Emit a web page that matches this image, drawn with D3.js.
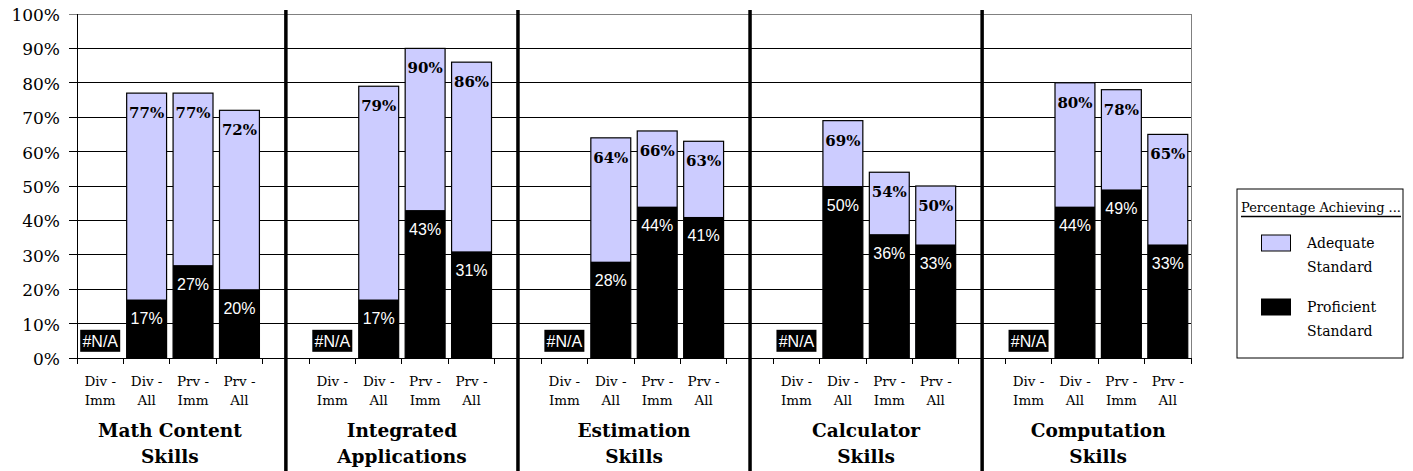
<!DOCTYPE html>
<html>
<head>
<meta charset="utf-8">
<script src="https://cdn.jsdelivr.net/npm/d3@7"></script>
<style>
  body { margin: 0; background: #fff; }
  svg { display: block; }
</style>
</head>
<body>
<svg id="chart" width="1413" height="471"></svg>
<script>
// chart data
const groups = [['Math Content', 'Skills'], ['Integrated', 'Applications'], ['Estimation', 'Skills'], ['Calculator', 'Skills'], ['Computation', 'Skills']];
const subCats = [['Div -', 'Imm'], ['Div -', 'All'], ['Prv -', 'Imm'], ['Prv -', 'All']];
// null = #N/A
const adequate = [[null, 77, 77, 72], [null, 79, 90, 86], [null, 64, 66, 63], [null, 69, 54, 50], [null, 80, 78, 65]];
const proficient = [[null, 17, 27, 20], [null, 17, 43, 31], [null, 28, 44, 41], [null, 50, 36, 33], [null, 44, 49, 33]];
const yTicks = [0, 10, 20, 30, 40, 50, 60, 70, 80, 90, 100];
const legendItems = [['Adequate', 'Standard'], ['Proficient', 'Standard']];

const serif = '"DejaVu Serif", serif';
const sans = '"Liberation Sans", Arial, sans-serif';
const lilac = '#ccccff';

const svg = d3.select('#chart');
const plot = { left: 77, right: 1191, top: 14, bottom: 358 };

// one slot per sub-category, plus a blank slot between groups
let slots = [];
let rows = [];
groups.forEach((g, gi) => {
  subCats.forEach((s, si) => {
    const key = gi + '-' + si;
    slots.push(key);
    rows.push({ key, gi, si, adequate: adequate[gi][si], proficient: proficient[gi][si] });
  });
  if (gi < groups.length - 1) slots.push('gap' + gi);
});

const x = d3.scaleBand().domain(slots).range([plot.left, plot.right]).padding(0);
const y = d3.scaleLinear().domain([0, 100]).range([plot.bottom, plot.top]);
const bw = x.bandwidth();
const barX = d => x(d.key) + bw * 0.07;
const barW = bw * 0.86;

// grid
svg.append('g').selectAll('line').data(yTicks).join('line')
  .attr('x1', plot.left - 8).attr('x2', plot.right)
  .attr('y1', d => y(d)).attr('y2', d => y(d))
  .attr('stroke', d => d === 100 ? '#808080' : '#000')
  .attr('stroke-width', 1).attr('shape-rendering', 'crispEdges');

svg.append('line')
  .attr('x1', plot.right).attr('x2', plot.right)
  .attr('y1', plot.top).attr('y2', plot.bottom)
  .attr('stroke', '#808080').attr('shape-rendering', 'crispEdges');

// y tick labels
svg.append('g').selectAll('text').data(yTicks).join('text')
  .attr('x', 60).attr('y', d => y(d) + 7)
  .attr('text-anchor', 'end')
  .attr('font-family', serif).attr('font-size', 17)
  .text(d => d + '%');

// bars
const valid = rows.filter(d => d.adequate != null);
svg.append('g').selectAll('rect').data(valid).join('rect')
  .attr('x', barX).attr('width', barW)
  .attr('y', d => y(d.adequate)).attr('height', d => y(0) - y(d.adequate))
  .attr('fill', lilac).attr('stroke', '#000').attr('stroke-width', 1.2);

svg.append('g').selectAll('rect').data(valid).join('rect')
  .attr('x', barX).attr('width', barW)
  .attr('y', d => y(d.proficient)).attr('height', d => y(0) - y(d.proficient))
  .attr('fill', '#000');

svg.append('g').selectAll('text').data(valid).join('text')
  .attr('x', d => x(d.key) + bw / 2).attr('y', d => y(d.adequate) + 25)
  .attr('text-anchor', 'middle')
  .attr('font-family', serif).attr('font-weight', 'bold').attr('font-size', 15)
  .text(d => d.adequate + '%');

svg.append('g').selectAll('text').data(valid).join('text')
  .attr('x', d => x(d.key) + bw / 2).attr('y', d => y(d.proficient) + 24.5)
  .attr('text-anchor', 'middle')
  .attr('font-family', sans).attr('font-size', 16).attr('fill', '#fff')
  .text(d => d.proficient + '%');

// #N/A labels
const na = rows.filter(d => d.adequate == null);
const naG = svg.append('g').selectAll('g').data(na).join('g')
  .attr('transform', d => `translate(${x(d.key) + bw / 2},${y(5)})`);
naG.append('rect').attr('x', -20).attr('y', -11).attr('width', 40).attr('height', 22).attr('fill', '#000');
naG.append('text').attr('y', 6).attr('text-anchor', 'middle')
  .attr('font-family', sans).attr('font-size', 16).attr('fill', '#fff')
  .text('#N/A');

// axes
svg.append('line')
  .attr('x1', plot.left).attr('x2', plot.left)
  .attr('y1', plot.top).attr('y2', plot.bottom)
  .attr('stroke', '#000').attr('shape-rendering', 'crispEdges');
svg.append('line')
  .attr('x1', plot.left - 8).attr('x2', plot.right)
  .attr('y1', plot.bottom).attr('y2', plot.bottom)
  .attr('stroke', '#000').attr('shape-rendering', 'crispEdges');

const bounds = slots.map(s => x(s)).concat([plot.right]);
svg.append('g').selectAll('line').data(bounds).join('line')
  .attr('x1', d => d).attr('x2', d => d)
  .attr('y1', plot.bottom).attr('y2', plot.bottom + 6)
  .attr('stroke', '#000').attr('shape-rendering', 'crispEdges');

// category labels
const catG = svg.append('g').selectAll('text').data(rows).join('text')
  .attr('text-anchor', 'middle')
  .attr('font-family', serif).attr('font-size', 13.5);
catG.append('tspan').attr('x', d => x(d.key) + bw / 2).attr('y', 386).text(d => subCats[d.si][0]);
catG.append('tspan').attr('x', d => x(d.key) + bw / 2).attr('y', 405).text(d => subCats[d.si][1]);

// group labels
const grpG = svg.append('g').selectAll('text').data(groups).join('text')
  .attr('text-anchor', 'middle')
  .attr('font-family', serif).attr('font-weight', 'bold').attr('font-size', 18.5);
const grpX = (d, i) => (x(i + '-0') + x(i + '-3') + bw) / 2;
grpG.append('tspan').attr('x', grpX).attr('y', 437).text(d => d[0]);
grpG.append('tspan').attr('x', grpX).attr('y', 463).text(d => d[1]);

// separators between groups
const gaps = slots.filter(s => s.startsWith('gap'));
svg.append('g').selectAll('line').data(gaps).join('line')
  .attr('x1', d => x(d) + bw / 2).attr('x2', d => x(d) + bw / 2)
  .attr('y1', 10).attr('y2', 471)
  .attr('stroke', '#000').attr('stroke-width', 3.5);

// legend
const lg = svg.append('g').attr('transform', 'translate(1237,189)');
lg.append('rect').attr('width', 166).attr('height', 169)
  .attr('fill', '#fff').attr('stroke', '#000').attr('stroke-width', 1);
lg.append('text').attr('x', 4).attr('y', 23)
  .attr('font-family', serif).attr('font-size', 12)
  .attr('textLength', 160).attr('lengthAdjust', 'spacingAndGlyphs')
  .text('Percentage Achieving ...');
lg.append('line').attr('x1', 4).attr('x2', 164).attr('y1', 27.5).attr('y2', 27.5)
  .attr('stroke', '#000').attr('stroke-width', 1.5);

const li = lg.selectAll('g.item').data(legendItems).join('g')
  .attr('class', 'item')
  .attr('transform', (d, i) => `translate(0,${46 + i * 64})`);
li.append('rect').attr('x', 24.5).attr('y', 0).attr('width', 29).attr('height', 16)
  .attr('fill', (d, i) => i === 0 ? lilac : '#000')
  .attr('stroke', '#000').attr('stroke-width', 1);
const lt = li.append('text').attr('font-family', serif).attr('font-size', 14);
lt.append('tspan').attr('x', 70).attr('y', 13).text(d => d[0]);
lt.append('tspan').attr('x', 70).attr('y', 37).text(d => d[1]);
</script>
</body>
</html>
